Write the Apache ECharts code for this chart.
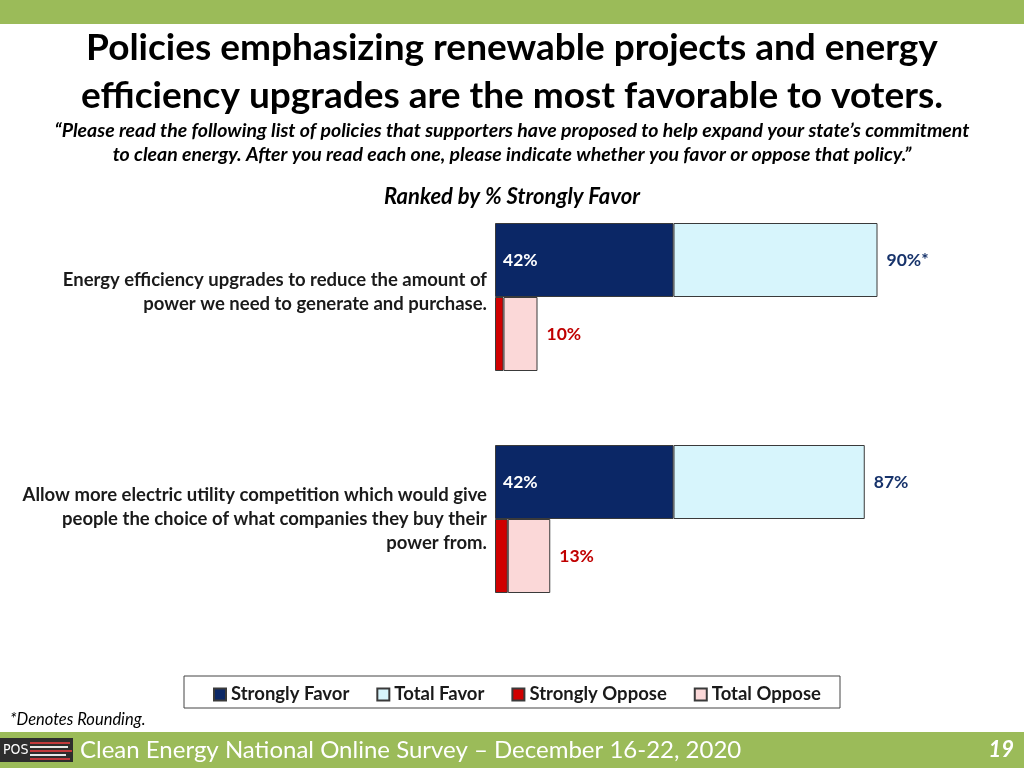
<!DOCTYPE html>
<html>
<head>
<meta charset="utf-8">
<script src="https://cdn.jsdelivr.net/npm/echarts@6.0.0/dist/echarts.min.js"></script>
<style>
html,body{margin:0;padding:0;background:#fff;}
#chart{width:1024px;height:768px;}
</style>
</head>
<body>
<div id="chart"></div>
<script>
const categories = [
  'Energy efficiency upgrades to reduce the amount of\npower we need to generate and purchase.',
  'Allow more electric utility competition which would give\npeople the choice of what companies they buy their\npower from.'
];
const strongFavor = [42, 42];
const totalFavor = [90, 87];
const strongOppose = [2, 3];
const totalOppose = [10, 13];
const totalFavorLabels = ['90%*', '87%'];
const totalOpposeLabels = ['10%', '13%'];
const strongFavorLabels = ['42%', '42%'];
const legendNames = ['Strongly Favor', 'Total Favor', 'Strongly Oppose', 'Total Oppose'];

const FONT = 'Lato';
const chart = echarts.init(document.getElementById('chart'));

const option = {
  animation: false,
  textStyle: {fontFamily: FONT},
  grid: {left: 495, right: 104, top: 186, bottom: 138, containLabel: false},
  xAxis: {type: 'value', min: 0, max: 100, show: false},
  yAxis: {
    type: 'category', data: categories, inverse: true,
    axisLine: {show: false}, axisTick: {show: false}, splitLine: {show: false},
    axisLabel: {
      margin: 8, fontSize: 18.5, fontWeight: 'bold', color: '#1a1a1a',
      lineHeight: 24, align: 'right', fontFamily: FONT,
      formatter: (v, i) => i === 0 ? v + '\n{s|\u200b}' : v,
      rich: {s: {lineHeight: 10, fontSize: 1}}
    }
  },
  legend: {
    data: legendNames, left: 208, top: 680, padding: 5, itemWidth: 12, itemHeight: 12, itemGap: 27,
    textStyle: {fontSize: 18.5, fontWeight: 'bold', color: '#1a1a1a', fontFamily: FONT},
    icon: 'rect', selectedMode: false
  },
  series: [
    {
      name: 'Strongly Favor', type: 'bar', stack: 'favor', data: strongFavor,
      barWidth: 74, barGap: '0%',
      itemStyle: {color: '#0B2766', borderColor: '#3a3a3a', borderWidth: 1},
      label: {show: true, position: 'insideLeft', distance: 8, color: '#fff', fontSize: 17.5, fontWeight: 'bold',
        formatter: p => strongFavorLabels[p.dataIndex]}
    },
    {
      name: 'Total Favor', type: 'bar', stack: 'favor',
      data: totalFavor.map((t, i) => t - strongFavor[i]),
      barWidth: 74, barGap: '0%',
      itemStyle: {color: '#D7F5FC', borderColor: '#3a3a3a', borderWidth: 1},
      label: {show: true, position: 'right', distance: 9, color: '#17336B', fontSize: 17.5, fontWeight: 'bold',
        formatter: p => totalFavorLabels[p.dataIndex]}
    },
    {
      name: 'Strongly Oppose', type: 'bar', stack: 'oppose', data: strongOppose,
      barWidth: 74, barGap: '0%',
      itemStyle: {color: '#D00000', borderColor: '#3a3a3a', borderWidth: 1}
    },
    {
      name: 'Total Oppose', type: 'bar', stack: 'oppose',
      data: totalOppose.map((t, i) => t - strongOppose[i]),
      barWidth: 74, barGap: '0%',
      itemStyle: {color: '#FBD8D8', borderColor: '#3a3a3a', borderWidth: 1},
      label: {show: true, position: 'right', distance: 9, color: '#C00000', fontSize: 17.5, fontWeight: 'bold',
        formatter: p => totalOpposeLabels[p.dataIndex]}
    }
  ],
  graphic: [
    {type: 'rect', shape: {x: 0, y: 0, width: 1024, height: 24}, style: {fill: '#9BBB59'}},
    {type: 'rect', shape: {x: 0, y: 732, width: 1024, height: 36}, style: {fill: '#9BBB59'}},
    {type: 'text', x: 512, y: 48, style: {text: 'Policies emphasizing renewable projects and energy', fontFamily: FONT, fontSize: 37, fontWeight: 'bold', fill: '#000', textAlign: 'center', textVerticalAlign: 'middle'}},
    {type: 'text', x: 512, y: 96, style: {text: 'efficiency upgrades are the most favorable to voters.', fontFamily: FONT, fontSize: 37, fontWeight: 'bold', fill: '#000', textAlign: 'center', textVerticalAlign: 'middle'}},
    {type: 'text', x: 512, y: 131, style: {text: '\u201cPlease read the following list of policies that supporters have proposed to help expand your state\u2019s commitment', fontFamily: FONT, fontSize: 19.5, fontWeight: 'bold', fontStyle: 'italic', fill: '#000', textAlign: 'center', textVerticalAlign: 'middle'}},
    {type: 'text', x: 512, y: 155, style: {text: 'to clean energy. After you read each one, please indicate whether you favor or oppose that policy.\u201d', fontFamily: FONT, fontSize: 19.5, fontWeight: 'bold', fontStyle: 'italic', fill: '#000', textAlign: 'center', textVerticalAlign: 'middle'}},
    {type: 'text', x: 512, y: 197, style: {text: 'Ranked by % Strongly Favor', fontFamily: FONT, fontSize: 22, fontWeight: 'bold', fontStyle: 'italic', fill: '#000', textAlign: 'center', textVerticalAlign: 'middle'}},
    {type: 'rect', shape: {x: 184, y: 676, width: 656, height: 32}, style: {fill: 'none', stroke: '#444', lineWidth: 1}, z: -1},
    {type: 'text', x: 10, y: 720, style: {text: '*Denotes Rounding.', fontFamily: FONT, fontSize: 16.5, fontStyle: 'italic', fill: '#000', textVerticalAlign: 'middle'}},
    {type: 'rect', shape: {x: 0, y: 738, width: 73, height: 24}, style: {fill: '#2d2d2d'}},
    {type: 'text', x: 3, y: 750, style: {text: 'POS', fontFamily: 'Liberation Sans Narrow, DejaVu Sans Condensed', fontSize: 14, fill: '#fff', textVerticalAlign: 'middle'}},
    {type: 'rect', shape: {x: 30, y: 742, width: 40, height: 2}, style: {fill: '#c0393b'}},
    {type: 'rect', shape: {x: 30, y: 746, width: 38, height: 2}, style: {fill: '#e8e8e8'}},
    {type: 'rect', shape: {x: 30, y: 750, width: 42, height: 2}, style: {fill: '#c0393b'}},
    {type: 'rect', shape: {x: 30, y: 754, width: 36, height: 2}, style: {fill: '#e8e8e8'}},
    {type: 'rect', shape: {x: 30, y: 758, width: 40, height: 2}, style: {fill: '#c0393b'}},
    {type: 'text', x: 80, y: 750, style: {text: 'Clean Energy National Online Survey \u2013 December 16-22, 2020', fontFamily: FONT, fontSize: 24, fontWeight: 'normal', fill: '#fff', textVerticalAlign: 'middle'}},
    {type: 'text', x: 1014, y: 750, style: {text: '19', fontFamily: FONT, fontSize: 22, fontWeight: 'bold', fontStyle: 'italic', fill: '#fff', textAlign: 'right', textVerticalAlign: 'middle'}}
  ]
};
chart.setOption(option);
</script>
</body>
</html>
